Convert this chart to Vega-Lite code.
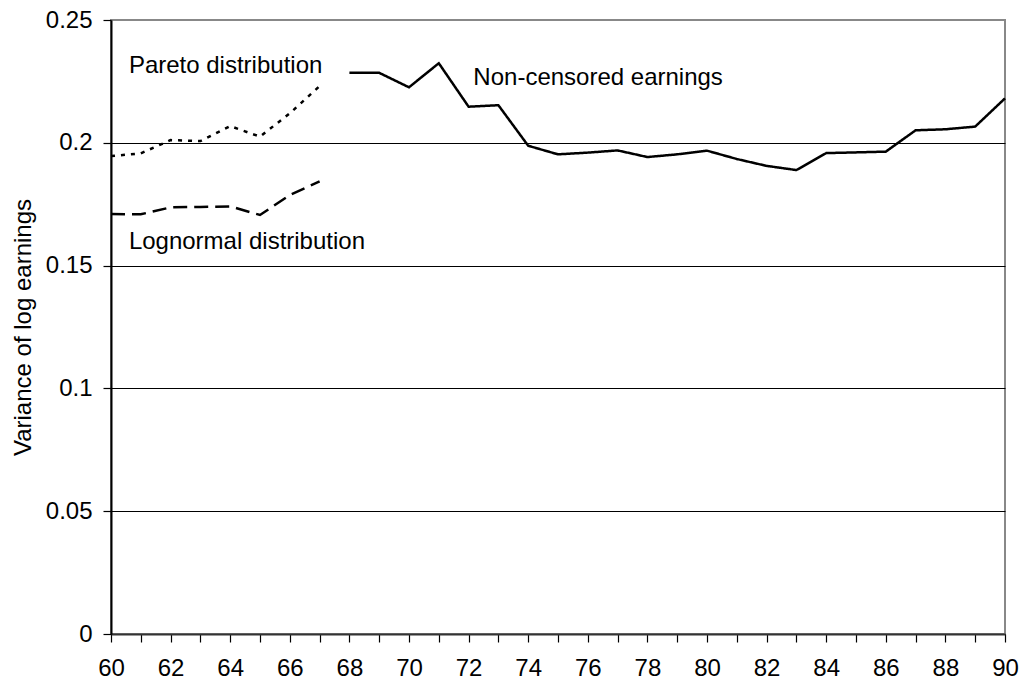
{
  "$schema": "https://vega.github.io/schema/vega-lite/v6.json",
  "autosize": {"type": "none"},
  "width": 894,
  "height": 614,
  "padding": {"left": 111, "top": 20, "right": 17, "bottom": 50},
  "background": "white",
  "config": {
    "font": "Liberation Sans",
    "view": {"stroke": "#888888", "strokeWidth": 2},
    "axis": {"ticks": true, "tickColor": "#000000", "tickWidth": 1.2, "tickSize": 8}
  },
  "datasets": {
    "series": [
      {"year": 60, "value": 0.1946, "series": "Pareto"},
      {"year": 61, "value": 0.1957, "series": "Pareto"},
      {"year": 62, "value": 0.2011, "series": "Pareto"},
      {"year": 63, "value": 0.2007, "series": "Pareto"},
      {"year": 64, "value": 0.2068, "series": "Pareto"},
      {"year": 65, "value": 0.2025, "series": "Pareto"},
      {"year": 66, "value": 0.2120, "series": "Pareto"},
      {"year": 67, "value": 0.2231, "series": "Pareto"},
      {"year": 60, "value": 0.1710, "series": "Lognormal"},
      {"year": 61, "value": 0.1709, "series": "Lognormal"},
      {"year": 62, "value": 0.1737, "series": "Lognormal"},
      {"year": 63, "value": 0.1739, "series": "Lognormal"},
      {"year": 64, "value": 0.1741, "series": "Lognormal"},
      {"year": 65, "value": 0.1706, "series": "Lognormal"},
      {"year": 66, "value": 0.1787, "series": "Lognormal"},
      {"year": 67, "value": 0.1843, "series": "Lognormal"},
      {"year": 68, "value": 0.2285, "series": "Non-censored"},
      {"year": 69, "value": 0.2285, "series": "Non-censored"},
      {"year": 70, "value": 0.2226, "series": "Non-censored"},
      {"year": 71, "value": 0.2324, "series": "Non-censored"},
      {"year": 72, "value": 0.2147, "series": "Non-censored"},
      {"year": 73, "value": 0.2153, "series": "Non-censored"},
      {"year": 74, "value": 0.1988, "series": "Non-censored"},
      {"year": 75, "value": 0.1953, "series": "Non-censored"},
      {"year": 76, "value": 0.1960, "series": "Non-censored"},
      {"year": 77, "value": 0.1969, "series": "Non-censored"},
      {"year": 78, "value": 0.1942, "series": "Non-censored"},
      {"year": 79, "value": 0.1953, "series": "Non-censored"},
      {"year": 80, "value": 0.1968, "series": "Non-censored"},
      {"year": 81, "value": 0.1934, "series": "Non-censored"},
      {"year": 82, "value": 0.1906, "series": "Non-censored"},
      {"year": 83, "value": 0.1889, "series": "Non-censored"},
      {"year": 84, "value": 0.1958, "series": "Non-censored"},
      {"year": 85, "value": 0.1961, "series": "Non-censored"},
      {"year": 86, "value": 0.1964, "series": "Non-censored"},
      {"year": 87, "value": 0.2051, "series": "Non-censored"},
      {"year": 88, "value": 0.2055, "series": "Non-censored"},
      {"year": 89, "value": 0.2066, "series": "Non-censored"},
      {"year": 90, "value": 0.2181, "series": "Non-censored"}
    ],
    "labels": [
      {"year": 60.6, "value": 0.2284, "text": "Pareto distribution"},
      {"year": 72.16, "value": 0.2236, "text": "Non-censored earnings"},
      {"year": 60.6, "value": 0.1568, "text": "Lognormal distribution"}
    ]
  },
  "encoding": {
    "x": {
      "field": "year", "type": "quantitative",
      "scale": {"domain": [60, 90], "nice": false, "zero": false},
      "axis": {
        "title": null,
        "values": [60,61,62,63,64,65,66,67,68,69,70,71,72,73,74,75,76,77,78,79,80,81,82,83,84,85,86,87,88,89,90],
        "labelExpr": "datum.value % 2 == 0 ? datum.label : ''",
        "grid": false,
        "domainColor": "#333333",
        "domainWidth": 2,
        "labelFontSize": 24,
        "labelColor": "black",
        "labelPadding": 14,
        "labelFlush": false,
        "labelOverlap": false
      }
    },
    "y": {
      "field": "value", "type": "quantitative",
      "scale": {"domain": [0, 0.25], "nice": false},
      "axis": {
        "title": "Variance of log earnings",
        "titleFontSize": 24,
        "titleFontWeight": "normal",
        "titleColor": "black",
        "titlePadding": 10,
        "values": [0, 0.05, 0.1, 0.15, 0.2, 0.25],
        "format": "~g",
        "grid": true,
        "gridColor": {"condition": {"test": "datum.value >= 0.25", "value": "#888888"}, "value": "black"},
        "gridWidth": 1,
        "gridOpacity": 1,
        "domainColor": "black",
        "domainWidth": 2,
        "labelFontSize": 24,
        "labelColor": "black",
        "labelPadding": 11,
        "labelOverlap": false
      }
    }
  },
  "layer": [
    {
      "data": {"name": "series"},
      "mark": {"type": "line", "color": "black", "strokeWidth": 2.5},
      "encoding": {
        "detail": {"field": "series"},
        "strokeDash": {
          "field": "series", "type": "nominal",
          "scale": {"domain": ["Pareto", "Lognormal", "Non-censored"], "range": [[4, 6], [14, 7], [1, 0]]},
          "legend": null
        }
      }
    },
    {
      "data": {"name": "labels"},
      "mark": {"type": "text", "align": "left", "baseline": "alphabetic", "fontSize": 24, "color": "black"},
      "encoding": {
        "text": {"field": "text"}
      }
    }
  ]
}
